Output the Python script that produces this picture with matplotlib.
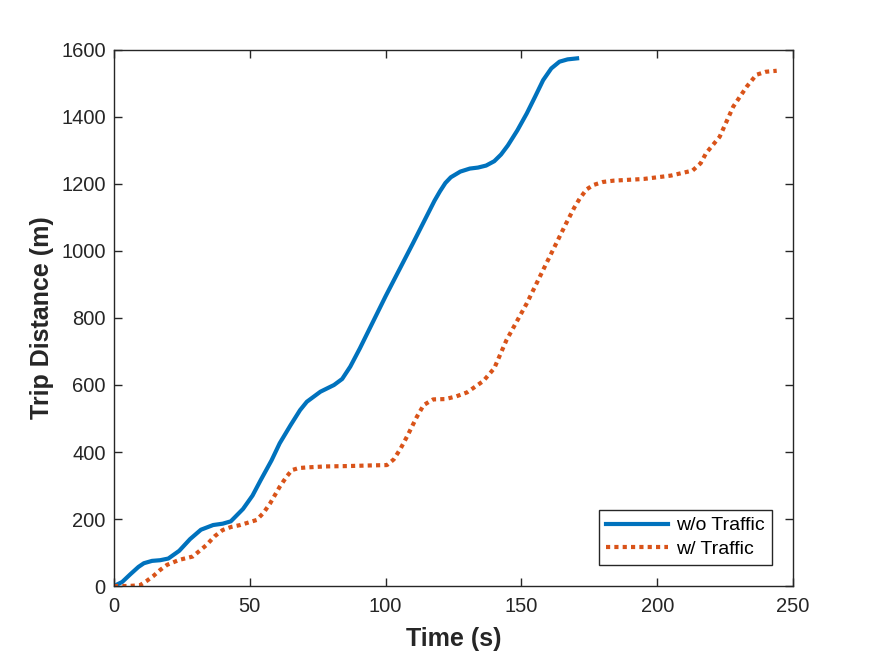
import matplotlib.pyplot as plt

plt.rcParams['font.family'] = ['Liberation Sans', 'DejaVu Sans']

# without traffic
t_free = [0, 3, 6, 9, 11, 14, 17, 20, 24, 28, 32, 36.5, 40, 43, 47.5, 51, 54, 58, 61, 65, 68.5,
          71, 73.5, 76, 78, 81, 84, 87, 90.5, 100, 110, 118, 120, 122, 124, 127.5, 131, 134, 137,
          140, 142.5, 145, 148.5, 152, 155, 158, 161, 164, 167, 170.5]
d_free = [0, 12, 35, 57, 68, 75, 77, 82, 105, 140, 168, 182, 186, 193, 230, 270, 316, 375, 426,
          480, 525, 550, 565, 580, 588, 600, 618, 655, 709, 865, 1022, 1150, 1178, 1203, 1220,
          1237, 1246, 1249, 1255, 1268, 1288, 1315, 1360, 1411, 1460, 1510, 1545, 1565, 1572,
          1575]

# with traffic
t_traf = [0, 5, 9.5, 12, 14.5, 17, 19.5, 24, 29, 34, 37, 40, 43, 46.5, 52.5, 55, 57.5, 61, 63.5,
          65.5, 68, 71, 78, 86, 95, 100.5, 103, 105.5, 108, 111.5, 114, 117.5, 122, 126, 130, 133,
          136, 140, 144.5, 152, 159, 166.5, 169.5, 171.5, 174, 176.5, 180, 184, 195, 205, 213,
          216, 218, 223, 228, 233, 236.5, 240, 244]
d_traf = [0, 0, 2, 15, 30, 48, 63, 78, 88, 122, 148, 167, 176, 182, 197, 218, 247, 296, 326,
          346, 352, 354, 357, 358, 360, 361, 378, 410, 448, 505, 540, 557, 558, 566, 578, 595,
          612, 650, 734, 844, 960, 1083, 1130, 1157, 1184, 1197, 1206, 1210, 1215, 1225, 1240,
          1262, 1292, 1341, 1431, 1491, 1526, 1535, 1538]

fig = plt.figure(figsize=(8.75, 6.56), dpi=100)
ax = fig.add_axes([0.1303, 0.1067, 0.776, 0.8171])

ax.plot(t_free, d_free, color='#0072BD', lw=3, label='w/o Traffic')
ax.plot(t_traf, d_traf, color='#D95319', lw=3, ls=(0, (1, 1)), label='w/ Traffic')

ax.set_xlim(0, 250)
ax.set_ylim(0, 1600)
ax.set_xticks(range(0, 251, 50))
ax.set_yticks(range(0, 1601, 200))

for s in ax.spines.values():
    s.set_color('#262626')
    s.set_linewidth(1)
ax.tick_params(direction='in', top=True, right=True, length=6, width=1,
               colors='#262626', labelsize=14.5, labelcolor='#262626')
ax.tick_params(axis='x', pad=8)
ax.tick_params(axis='y', pad=6)

ax.set_xlabel('Time (s)', fontsize=18, fontweight='bold', color='#262626', labelpad=8)
ax.set_ylabel('Trip Distance (m)', fontsize=18, fontweight='bold', color='#262626', labelpad=5)

leg = ax.legend(loc='lower right', fontsize=14, fancybox=False, framealpha=1,
                edgecolor='#262626', handlelength=3.2, handletextpad=0.4,
                borderaxespad=1.1, labelspacing=0.3, borderpad=0.35)
leg.get_frame().set_linewidth(1)

fig.savefig('out.png', dpi=100)
